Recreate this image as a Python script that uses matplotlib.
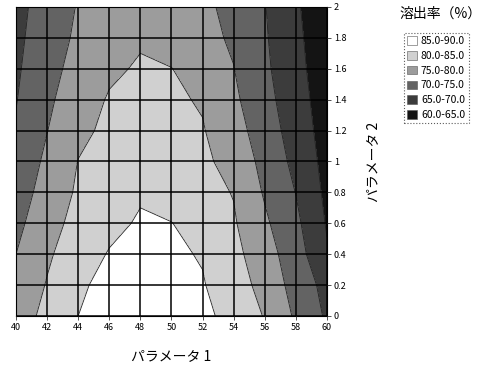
import matplotlib.pyplot as plt
import numpy as np
from matplotlib.patches import Patch
from matplotlib.ticker import FormatStrFormatter, FuncFormatter

plt.rcParams['font.family'] = ['Noto Sans CJK JP', 'DejaVu Sans']

# パラメータ1 (x) と パラメータ2 (y) の格子
param1 = [40, 42, 44, 46, 48, 50, 52, 54, 56, 58, 60]
param2 = [0.0, 0.2, 0.4, 0.6, 0.8, 1.0, 1.2, 1.4, 1.6, 1.8, 2.0]

# 溶出率 (%)  行 = param2, 列 = param1
rate = [
    [77.6, 81.3, 85.0, 86.8, 88.5, 87.2, 85.9, 83.7, 79.7, 74.3, 69.3],
    [76.2, 80.3, 84.4, 86.1, 87.5, 86.4, 85.3, 82.4, 78.3, 73.2, 68.4],
    [75.0, 79.3, 82.7, 85.3, 86.5, 85.7, 84.7, 81.4, 77.1, 72.3, 65.5],
    [73.7, 78.2, 81.5, 83.8, 85.5, 85.1, 83.0, 80.5, 75.8, 71.1, 64.6],
    [72.5, 77.0, 80.65, 82.6, 84.5, 83.0, 81.5, 79.8, 74.5, 69.9, 63.9],
    [71.7, 75.9, 80.1, 81.8, 83.5, 82.2, 80.9, 78.4, 73.5, 68.7, 63.4],
    [70.45, 74.9, 78.9, 81.0, 82.5, 81.4, 80.3, 77.0, 72.5, 67.8, 62.9],
    [69.8, 74.1, 77.7, 80.4, 81.5, 80.7, 79.6, 75.9, 71.6, 67.1, 62.5],
    [69.3, 73.4, 76.6, 79.2, 80.5, 80.1, 77.7, 75.1, 70.9, 66.5, 62.1],
    [68.9, 72.7, 75.8, 77.6, 79.5, 77.9, 76.3, 74.4, 70.5, 66.1, 61.7],
    [68.6, 72.1, 75.3, 76.9, 78.5, 77.2, 75.9, 73.8, 70.2, 65.7, 61.1],
]

levels = [60, 65, 70, 75, 80, 85, 90]
level_labels = ['60.0-65.0', '65.0-70.0', '70.0-75.0', '75.0-80.0', '80.0-85.0', '85.0-90.0']
shades = ['#141414', '#3c3c3c', '#636363', '#9c9c9c', '#d0d0d0', '#ffffff']

fig = plt.figure(figsize=(4.92, 3.67), dpi=100)
ax = fig.add_axes([0.0325, 0.139, 0.632, 0.842])

X, Y = np.meshgrid(param1, param2)
Z = np.array(rate)
ax.contourf(X, Y, Z, levels=levels, colors=shades, zorder=1)
ax.contour(X, Y, Z, levels=levels[1:-1], colors='#222222', linewidths=0.6, zorder=2)

ax.set_xlim(40, 60)
ax.set_ylim(0, 2)
ax.set_xticks(param1)
ax.set_yticks(param2)
ax.xaxis.set_major_formatter(FormatStrFormatter('%d'))
ax.yaxis.set_major_formatter(FuncFormatter(lambda v, p: f'{v:g}'))
ax.yaxis.tick_right()
ax.yaxis.set_label_position('right')
ax.tick_params(axis='both', labelsize=6.5, length=3, width=0.6, color='#333333', pad=2)

ax.grid(True, color='black', linewidth=1.1)
ax.set_axisbelow(False)
for s in ax.spines.values():
    s.set_linewidth(0.8)

ax.set_xlabel('パラメータ 1', fontsize=10, labelpad=12)
ax.set_ylabel('パラメータ 2', fontsize=10, labelpad=14)

# 凡例
fig.text(0.895, 0.962, '溶出率（%）', fontsize=10, ha='center', va='center')
handles = [Patch(facecolor=shades[i], edgecolor='#555555', linewidth=0.4, label=level_labels[i])
           for i in range(len(shades) - 1, -1, -1)]
leg = fig.legend(handles=handles, loc='upper left', bbox_to_anchor=(0.81, 0.925),
                 fontsize=7.5, frameon=True, fancybox=False, handlelength=0.9,
                 handleheight=0.9, handletextpad=0.4, borderpad=0.35, labelspacing=0.45)
leg.get_frame().set_edgecolor('#333333')
leg.get_frame().set_linestyle(':')
leg.get_frame().set_linewidth(0.8)

fig.savefig('out.png', dpi=100)
